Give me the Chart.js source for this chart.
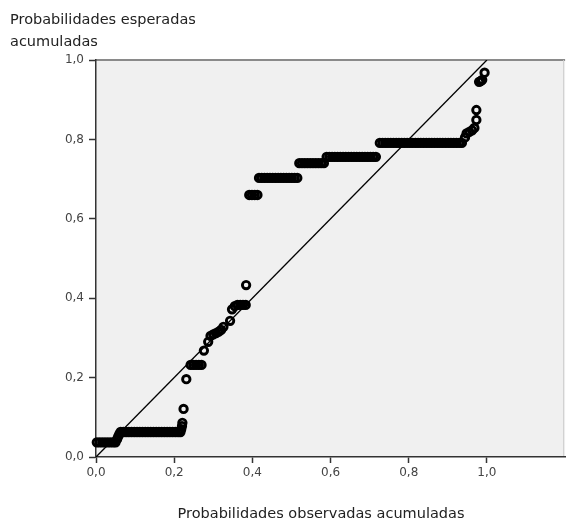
<!DOCTYPE html>
<html>
<head>
<meta charset="utf-8">
<script src="https://cdn.jsdelivr.net/npm/chart.js@4.4.1/dist/chart.umd.min.js"></script>
<style>
  html, body { margin: 0; padding: 0; background: #fff; }
  #wrap { width: 572px; height: 525px; position: relative; }
</style>
</head>
<body>
<div id="wrap"><canvas id="ppChart"></canvas></div>
<script>
// P-P plot: observed vs expected cumulative probabilities

// horizontal runs of tied values: one expected level per run, observed x for each point
const runExpected = [0.037, 0.063, 0.232, 0.66, 0.703, 0.74, 0.756, 0.791];
const runObserved = [
  [0.002, 0.009, 0.016, 0.023, 0.030, 0.037, 0.044, 0.050],
  [0.063, 0.070, 0.077, 0.084, 0.091, 0.098, 0.105, 0.112, 0.119, 0.126, 0.133, 0.140,
   0.147, 0.154, 0.161, 0.168, 0.175, 0.182, 0.189, 0.196, 0.203, 0.210, 0.216],
  [0.242, 0.249, 0.256, 0.263, 0.270],
  [0.392, 0.399, 0.406, 0.413],
  [0.417, 0.424, 0.431, 0.438, 0.445, 0.452, 0.459, 0.466, 0.473, 0.480, 0.487, 0.494,
   0.501, 0.508, 0.515],
  [0.520, 0.527, 0.534, 0.541, 0.548, 0.555, 0.562, 0.569, 0.576, 0.583],
  [0.590, 0.597, 0.604, 0.611, 0.618, 0.625, 0.632, 0.639, 0.646, 0.653, 0.660, 0.667,
   0.674, 0.681, 0.688, 0.695, 0.702, 0.709, 0.716],
  [0.726, 0.733, 0.740, 0.747, 0.754, 0.761, 0.768, 0.775, 0.782, 0.789, 0.796, 0.803,
   0.810, 0.817, 0.824, 0.831, 0.838, 0.845, 0.852, 0.859, 0.866, 0.873, 0.880, 0.887,
   0.894, 0.901, 0.908, 0.915, 0.922, 0.929, 0.936],
];

// the remaining points, read one by one
const singleObserved = [
  0.054, 0.057, 0.060,
  0.218, 0.220, 0.221, 0.224,
  0.231, 0.276, 0.287,
  0.293, 0.300, 0.307, 0.314, 0.320, 0.326,
  0.343, 0.348, 0.355, 0.362, 0.369, 0.376, 0.383, 0.384,
  0.944, 0.948, 0.955, 0.962, 0.968, 0.973, 0.973,
  0.980, 0.984, 0.988, 0.994,
];
const singleExpected = [
  0.045, 0.052, 0.058,
  0.070, 0.078, 0.086, 0.121,
  0.196, 0.268, 0.290,
  0.305, 0.309, 0.312, 0.316, 0.320, 0.328,
  0.343, 0.372, 0.380, 0.383, 0.383, 0.383, 0.383, 0.433,
  0.805, 0.815, 0.819, 0.823, 0.829, 0.849, 0.874,
  0.945, 0.947, 0.950, 0.968,
];

// reference diagonal
const diagObserved = [0, 1];
const diagExpected = [0, 1];

const xTicksMax = 1.0;

const points = [];
runExpected.forEach((y, i) => {
  runObserved[i].forEach((x) => points.push({ x, y }));
});
singleObserved.forEach((x, i) => points.push({ x, y: singleExpected[i] }));

const diagonal = diagObserved.map((x, i) => ({ x, y: diagExpected[i] }));

const fmt = (v) => Number(v).toFixed(1).replace(".", ",");

// grey plot background plus top and right frame lines
const plotFrame = {
  id: "plotFrame",
  beforeDraw(chart) {
    const { ctx, chartArea: a } = chart;
    ctx.save();
    ctx.fillStyle = "#f0f0f0";
    ctx.fillRect(a.left, a.top, a.right - a.left, a.bottom - a.top);
    ctx.strokeStyle = "#8a8a8a";
    ctx.lineWidth = 2;
    ctx.beginPath();
    ctx.moveTo(a.left, a.top);
    ctx.lineTo(a.right, a.top);
    ctx.stroke();
    ctx.strokeStyle = "#cfcfcf";
    ctx.lineWidth = 1;
    ctx.beginPath();
    ctx.moveTo(a.right - 1.5, a.top);
    ctx.lineTo(a.right - 1.5, a.bottom);
    ctx.stroke();
    ctx.restore();
  },
  afterDraw(chart) {
    const { ctx } = chart;
    ctx.save();
    ctx.fillStyle = "#222";
    ctx.font = "14.5px 'DejaVu Sans'";
    ctx.textAlign = "center";
    ctx.textBaseline = "middle";
    ctx.fillText("Probabilidades observadas acumuladas", 321, 514);
    ctx.restore();
  },
};

new Chart(document.getElementById("ppChart").getContext("2d"), {
  type: "scatter",
  data: {
    datasets: [
      {
        type: "line",
        label: "Diagonal",
        data: diagonal,
        borderColor: "#000",
        borderWidth: 1.3,
        pointRadius: 0,
        fill: false,
        order: 2,
      },
      {
        label: "Observado",
        data: points,
        pointStyle: "circle",
        pointRadius: 3.7,
        borderWidth: 2.9,
        borderColor: "#000",
        backgroundColor: "rgba(0,0,0,0)",
        clip: false,
        order: 1,
      },
    ],
  },
  options: {
    responsive: true,
    maintainAspectRatio: false,
    animation: false,
    layout: { padding: { left: 10, right: 0, top: 0, bottom: 0 } },
    scales: {
      x: {
        type: "linear",
        min: 0,
        max: 1.2,
        afterBuildTicks: (s) => {
          s.ticks = s.ticks.filter((t) => t.value <= xTicksMax + 1e-6);
        },
        afterFit: (s) => { s.height = 68; },
        ticks: {
          stepSize: 0.2,
          color: "#444",
          font: { family: "DejaVu Sans", size: 12 },
          padding: 3,
          maxRotation: 0,
          callback: (v) => fmt(v),
        },
        grid: { drawOnChartArea: false, drawTicks: true, tickLength: 6, tickColor: "#333", tickWidth: 1.5 },
        border: { display: true, color: "#333", width: 1.5 },
      },
      y: {
        type: "linear",
        min: 0,
        max: 1,
        afterFit: (s) => { s.width = 86; },
        ticks: {
          stepSize: 0.2,
          color: "#444",
          font: { family: "DejaVu Sans", size: 12 },
          padding: 5,
          callback: (v) => fmt(v),
        },
        grid: { drawOnChartArea: false, drawTicks: true, tickLength: 7, tickColor: "#333", tickWidth: 1.5 },
        border: { display: true, color: "#333", width: 1.5 },
      },
    },
    plugins: {
      legend: { display: false },
      tooltip: { enabled: false },
      title: {
        display: true,
        text: ["Probabilidades esperadas", "acumuladas"],
        align: "start",
        color: "#222",
        font: { family: "DejaVu Sans", size: 14.5, weight: "normal", lineHeight: "22px" },
        padding: { top: 9, bottom: 7 },
      },
    },
  },
  plugins: [plotFrame],
});
</script>
</body>
</html>
